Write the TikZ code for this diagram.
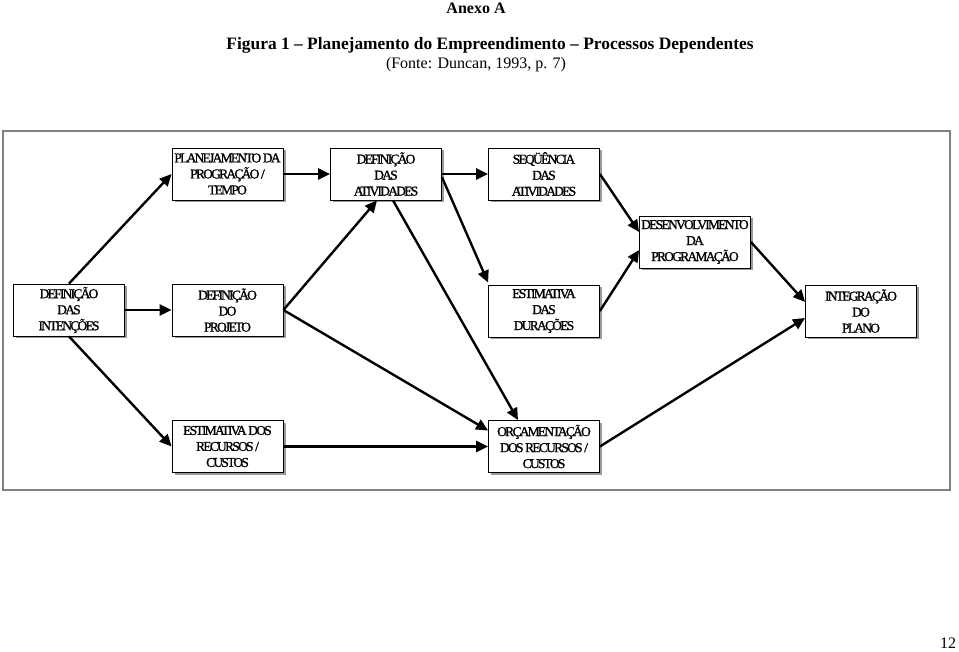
\documentclass[tikz,border=0pt]{standalone}
\usepackage{fontspec}
\setmainfont{Liberation Serif}
\newfontfamily\boxfont[LetterSpace=-13,FakeBold=1.2]{Liberation Serif}
\usetikzlibrary{arrows.meta,shadows}
\newcommand\pbox[4]{\node[etapa] (#1) at (#2,#3) {#4};}
\begin{document}
\begin{tikzpicture}[x=1pt,y=-1pt,
  etapa/.style={draw=black, line width=0.8pt, fill=white, minimum width=111pt, minimum height=52pt, inner sep=0pt, align=center, font=\boxfont\fontsize{13.5}{16}\selectfont, drop shadow={shadow xshift=2.5pt, shadow yshift=-2.5pt, fill=gray!80, opacity=1}},
  seta/.style={line width=2.4pt, -{Triangle[length=12pt,width=11pt]}}]
\useasboundingbox (0,0) rectangle (959,652);
\node[font=\bfseries\fontsize{16}{19}\selectfont] (anexo) at (476,8) {Anexo A};
\node[font=\bfseries\fontsize{17.4}{20}\selectfont] (titulo) at (490,45) {Figura 1 -- Planejamento do Empreendimento -- Processos Dependentes};
\node[font=\fontsize{16}{19}\selectfont] (fonte) at (476,65) {(Fonte: Duncan, 1993, p. 7)};
\draw[gray, line width=1.5pt] (3,131) rectangle (950,490);
\pbox{plan}{227.5}{174}{PLANEJAMENTO DA\\PROGRAÇÃO /\\TEMPO}
\pbox{defativ}{386}{174}{DEFINIÇÃO\\DAS\\ATIVIDADES}
\pbox{seq}{544}{174}{SEQÜÊNCIA\\DAS\\ATIVIDADES}
\pbox{desenv}{695}{242}{DESENVOLVIMENTO\\DA\\PROGRAMAÇÃO}
\pbox{defint}{69}{310}{DEFINIÇÃO\\DAS\\INTENÇÕES}
\pbox{defproj}{227.5}{310}{DEFINIÇÃO\\DO\\PROJETO}
\pbox{estdur}{544}{311}{ESTIMATIVA\\DAS\\DURAÇÕES}
\pbox{integr}{861}{311}{INTEGRAÇÃO\\DO\\PLANO}
\pbox{estrec}{227.5}{446.5}{ESTIMATIVA DOS\\RECURSOS /\\CUSTOS}
\pbox{orc}{544}{446.5}{ORÇAMENTAÇÃO\\DOS RECURSOS /\\CUSTOS}
\draw[seta] (defint.north) -- (plan.west);
\draw[seta] (defint.east) -- (defproj.west);
\draw[seta] (defint.south) -- (estrec.west);
\draw[seta] (plan.east) -- (defativ.west);
\draw[seta] (defativ.east) -- (seq.west);
\draw[seta] (defproj.east) -- ([xshift=-9pt]defativ.south);
\draw[seta] (defproj.east) -- ([yshift=16pt]orc.west);
\draw[seta] ([xshift=7pt]defativ.south) -- ([xshift=-26pt]orc.north);
\draw[seta] ([yshift=-3pt]defativ.east) -- ([yshift=2pt]estdur.north west);
\draw[seta] (seq.east) -- ([yshift=10pt]desenv.west);
\draw[seta] (estdur.east) -- ([yshift=-8pt]desenv.west);
\draw[seta] (desenv.east) -- ([yshift=9pt]integr.west);
\draw[seta] (orc.east) -- ([yshift=-7pt]integr.west);
\draw[seta] (estrec.east) -- (orc.west);
\node[font=\fontsize{16}{19}\selectfont] (pagina) at (948,643) {12};
\end{tikzpicture}
\end{document}
